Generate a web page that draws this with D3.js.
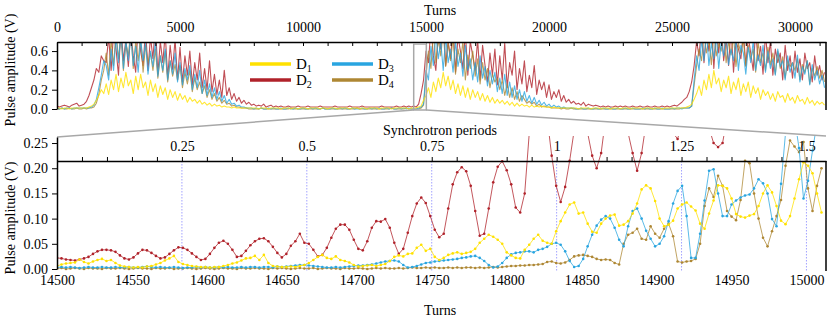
<!DOCTYPE html>
<html>
<head>
<meta charset="utf-8">
<script src="https://cdn.jsdelivr.net/npm/d3@7"></script>
<style>
  body { margin: 0; background: #fff; }
  svg { display: block; }
  svg text { font-family: 'Liberation Serif', 'Times New Roman', 'DejaVu Serif', serif; }
</style>
</head>
<body>
<svg id="chart" width="830" height="319"></svg>
<script>
// Overview: one value every 100 turns from turn 0, in units of 0.01 V
const overviewStep = 100;
const ovD1 = [
  1,1,0,1,1,0,1,1,1,1, 1,1,1,2,3,5,9,14,20,16, 26,15,30,20,36,18,32,22,38,24,
  30,16,34,20,36,22,28,14,30,18, 26,12,24,15,22,10,20,12,18,9, 16,10,14,7,12,8,10,6,9,5,
  7,4,6,3,5,3,4,2,3,2, 2,1,2,1,1,1,1,1,1,1, 1,1,0,1,1,1,0,1,1,1,
  1,0,1,1,1,0,1,1,0,1, 1,1,0,1,1,1,1,0,1,1, 0,1,1,1,0,1,1,1,1,0,
  1,1,1,0,1,1,0,1,1,1, 1,0,1,1,1,1,0,1,1,1, 1,1,1,0,1,1,1,2,3,9,
  14,22,12,28,18,32,22,38,24,34, 20,30,16,26,14,24,12,22,10,20, 12,18,9,16,8,14,7,12,6,10,
  6,9,5,8,4,7,3,6,3,5, 3,4,2,4,2,3,2,3,2,2, 2,1,2,1,1,1,1,1,1,1,
  1,1,0,1,1,1,1,0,1,1, 1,0,1,1,1,0,1,1,1,0, 1,1,1,0,1,1,1,1,0,1,
  1,1,0,1,1,1,0,1,1,1, 1,1,1,1,1,1,2,3,5,10, 16,24,14,30,20,36,22,40,26,32,
  18,30,22,34,16,28,20,32,14,26, 18,28,12,24,16,22,10,20,14,18, 10,16,8,18,12,14,7,16,9,12,
  6,14,8,10,5,12,6,9,4,8, 5,7,4
];
const ovD2 = [
  3,2,3,4,3,2,4,5,6,3, 4,5,8,14,22,30,42,38,55,50, 48,75,40,80,62,35,85,50,72,44,
  80,55,38,90,60,45,82,40,75,52, 88,36,70,48,78,32,66,41,72,30, 64,28,55,35,60,25,48,30,58,22,
  42,20,50,18,36,15,30,12,40,14, 22,10,16,8,12,6,9,5,7,4, 5,3,4,3,5,2,3,4,2,3,
  2,3,2,2,3,2,2,2,3,2, 2,2,3,2,2,2,2,3,2,2, 2,2,2,3,2,2,2,2,2,3,
  2,2,2,2,3,2,2,2,2,2, 2,2,3,2,2,2,2,2,3,2, 2,3,2,3,2,3,2,5,16,30,
  60,48,85,55,40,78,62,90,45,70, 52,88,38,75,60,42,80,35,70,55, 40,72,30,66,45,28,58,35,62,25,
  55,30,68,22,48,35,60,20,42,26, 50,18,35,22,45,15,30,20,28,12, 25,10,18,12,20,8,14,7,10,6,
  8,5,6,4,7,3,5,4,3,4, 3,2,3,2,3,2,2,3,2,3, 2,3,2,2,3,2,2,3,2,2,
  3,2,2,3,2,2,3,2,3,2, 3,4,3,5,7,10,12,18,28,45, 70,55,85,48,78,60,90,42,80,58,
  88,50,72,45,85,38,70,62,52,80, 45,75,58,40,82,50,65,36,78,48, 70,35,62,48,58,30,66,40,55,32,
  60,38,52,30,58,42,48,28,55,35, 45,30,38
];
const ovD3 = [
  1,0,1,0,1,1,0,1,1,1, 1,1,1,1,2,4,10,22,35,50, 45,30,62,40,75,48,80,42,70,50,
  78,45,65,38,72,50,68,36,60,44, 70,34,55,40,62,30,50,36,58,28, 48,25,42,30,45,20,36,22,40,16,
  30,14,26,12,22,10,18,8,14,6, 10,5,6,3,4,2,2,1,1,1, 0,1,0,1,0,0,1,0,1,0,
  0,1,0,0,1,0,0,1,0,0, 1,0,0,1,0,1,0,0,1,0, 0,0,1,0,0,1,0,1,0,0,
  1,0,0,0,1,0,0,1,0,1, 0,1,0,0,1,0,1,0,0,1, 0,1,0,1,0,0,0,1,2,5,
  40,30,65,45,78,52,70,40,75,48, 62,38,70,44,58,34,66,40,52,30, 48,28,55,32,44,24,40,26,38,18,
  32,16,36,14,28,12,24,10,20,8, 18,8,14,6,12,5,9,4,7,3, 5,2,4,2,3,1,2,1,1,1,
  1,0,0,1,0,0,1,0,0,1, 0,0,1,0,0,1,0,0,1,0, 0,1,0,0,1,0,0,0,1,0,
  1,0,0,1,0,0,1,0,0,0, 1,0,1,1,0,1,1,1,3,30, 55,40,72,50,80,45,68,52,76,42,
  70,55,78,46,62,50,72,40,66,58, 36,64,48,70,40,56,45,66,38,60, 42,52,35,62,44,50,30,55,38,48,
  32,56,28,44,36,50,25,46,30,40, 26,35,22
];
const ovD4 = [
  0,0,1,0,0,1,0,0,1,0, 0,1,0,1,1,2,6,15,30,40, 58,35,72,45,80,52,76,40,68,55,
  82,42,70,50,75,38,66,48,58,40, 62,32,55,38,60,28,50,34,46,30, 45,22,38,26,40,18,32,20,28,16,
  24,12,20,10,16,8,12,6,9,5, 6,3,4,2,2,1,1,1,0,0, 0,0,0,1,0,0,0,0,0,0,
  0,0,0,0,0,1,0,0,0,0, 0,0,0,0,0,0,0,0,1,0, 0,0,0,0,0,0,0,0,0,0,
  0,0,1,0,0,0,0,0,0,0, 0,0,0,0,0,0,1,0,0,0, 0,0,1,0,0,0,0,0,1,4,
  35,60,42,80,48,72,55,82,44,68, 50,74,36,62,48,70,30,56,42,60, 34,52,26,48,30,42,22,36,28,32,
  20,30,14,26,12,22,10,18,8,14, 10,6,8,5,7,3,5,2,3,2, 2,1,1,1,1,0,1,0,0,1,
  0,0,0,0,0,0,0,0,0,0, 0,0,0,0,0,0,0,0,0,0, 0,0,0,0,0,0,0,0,0,0,
  0,0,0,0,0,0,0,0,0,0, 0,0,0,0,1,1,1,1,3,25, 45,62,50,78,58,72,46,80,55,68,
  60,82,48,70,56,76,44,68,58,72, 44,66,52,62,38,70,48,58,40,64, 46,58,36,60,42,54,32,50,44,48,
  40,52,30,46,38,50,26,42,34,44, 32,40,28
];

// Zoom: one value every 3 turns from turn 14500, in V
const zoomStart = 14500;
const zoomStep = 3;
const zD1 = [
  0.006,0.009,0.011,0.012,0.013,0.019,0.014,0.011,0.015,0.018,
  0.020,0.016,0.018,0.012,0.007,0.005,0.004,0.003,0.004,0.003,
  0.005,0.006,0.009,0.012,0.017,0.021,0.026,0.014,0.010,0.008,
  0.006,0.005,0.004,0.004,0.003,0.004,0.004,0.006,0.008,0.011,
  0.013,0.017,0.021,0.022,0.026,0.018,0.028,0.012,0.006,0.005,
  0.004,0.004,0.005,0.004,0.006,0.008,0.012,0.018,0.024,0.028,
  0.022,0.020,0.025,0.018,0.016,0.013,0.008,0.005,0.006,0.007,
  0.008,0.006,0.008,0.010,0.016,0.024,0.027,0.025,0.030,0.031,
  0.042,0.048,0.036,0.040,0.024,0.018,0.022,0.028,0.031,0.033,
  0.030,0.032,0.034,0.040,0.052,0.060,0.068,0.064,0.058,0.050,
  0.033,0.027,0.022,0.021,0.038,0.048,0.060,0.068,0.056,0.052,
  0.050,0.075,0.095,0.112,0.128,0.132,0.110,0.112,0.090,0.074,
  0.072,0.090,0.100,0.106,0.108,0.086,0.088,0.095,0.110,0.130,
  0.158,0.166,0.160,0.135,0.100,0.085,0.088,0.096,0.120,0.128,
  0.132,0.124,0.116,0.090,0.080,0.110,0.136,0.166,0.165,0.160,
  0.140,0.109,0.104,0.102,0.106,0.109,0.125,0.150,0.166,0.152,
  0.125,0.096,0.089,0.105,0.140,0.178,0.212,0.205,0.190,0.150,
  0.112
];
const zD2 = [
  0.022,0.021,0.019,0.018,0.017,0.019,0.021,0.024,0.030,0.035,
  0.038,0.038,0.037,0.034,0.027,0.021,0.019,0.023,0.031,0.038,
  0.037,0.032,0.026,0.021,0.023,0.030,0.037,0.043,0.042,0.038,
  0.031,0.024,0.018,0.020,0.030,0.042,0.052,0.056,0.050,0.038,
  0.024,0.026,0.036,0.047,0.055,0.060,0.061,0.055,0.044,0.032,
  0.023,0.030,0.046,0.055,0.070,0.052,0.050,0.038,0.025,0.028,
  0.042,0.062,0.080,0.088,0.088,0.078,0.058,0.040,0.037,0.055,
  0.082,0.095,0.094,0.099,0.082,0.052,0.030,0.040,0.072,0.105,
  0.130,0.142,0.131,0.105,0.078,0.063,0.070,0.120,0.168,0.192,
  0.202,0.194,0.165,0.115,0.066,0.070,0.120,0.172,0.203,0.214,
  0.196,0.168,0.122,0.112,0.150,0.268,0.340,0.390,0.370,0.300,
  0.225,0.165,0.133,0.163,0.215,0.275,0.330,0.310,0.270,0.225,
  0.200,0.230,0.300,0.360,0.390,0.370,0.320,0.270,0.230,0.195,
  0.230,0.290,0.350,0.400,0.390,0.340,0.300,0.270,0.258,0.290,
  0.350,0.420,0.450,0.410,0.340,0.280,0.250,0.242,0.250,0.300,
  0.380,0.450,0.500,0.520,0.480,0.420,0.380,0.360,0.400,0.460,
  0.520,0.550,0.500,0.440,0.400,0.420,0.480,0.540,0.560,0.500,
  0.460
];
const zD3 = [
  0.003,0.004,0.003,0.004,0.003,0.002,0.003,0.004,0.003,0.003,
  0.004,0.003,0.003,0.004,0.003,0.003,0.004,0.003,0.003,0.004,
  0.005,0.004,0.003,0.004,0.003,0.003,0.004,0.003,0.002,0.003,
  0.003,0.004,0.003,0.004,0.003,0.003,0.004,0.003,0.004,0.003,
  0.003,0.004,0.003,0.004,0.004,0.003,0.004,0.004,0.003,0.005,
  0.004,0.005,0.006,0.007,0.008,0.008,0.007,0.006,0.005,0.004,
  0.003,0.003,0.004,0.003,0.004,0.005,0.006,0.007,0.007,0.008,
  0.009,0.011,0.013,0.015,0.016,0.017,0.015,0.008,0.003,0.004,
  0.006,0.009,0.012,0.013,0.015,0.016,0.017,0.018,0.019,0.020,
  0.022,0.023,0.025,0.026,0.022,0.016,0.008,0.003,0.005,0.012,
  0.022,0.029,0.032,0.033,0.035,0.035,0.033,0.038,0.040,0.044,
  0.050,0.052,0.048,0.035,0.016,0.004,0.006,0.020,0.045,0.068,
  0.086,0.098,0.105,0.100,0.082,0.058,0.045,0.085,0.115,0.120,
  0.100,0.076,0.060,0.045,0.050,0.065,0.095,0.130,0.155,0.165,
  0.105,0.022,0.022,0.070,0.136,0.195,0.198,0.150,0.105,0.105,
  0.128,0.136,0.142,0.146,0.148,0.160,0.178,0.170,0.150,0.099,
  0.085,0.169,0.270,0.310,0.300,0.240,0.140,0.175,0.235,0.290,
  0.300
];
const zD4 = [
  0.001,0.002,0.000,0.001,0.002,0.001,0.000,0.002,0.001,0.001,
  0.000,0.002,0.001,0.001,0.002,0.001,0.000,0.001,0.002,0.001,
  0.001,0.000,0.002,0.001,0.001,0.002,0.000,0.001,0.001,0.002,
  0.001,0.000,0.001,0.002,0.001,0.000,0.001,0.002,0.001,0.001,
  0.000,0.002,0.001,0.001,0.002,0.001,0.001,0.000,0.002,0.001,
  0.002,0.001,0.000,0.001,0.002,0.001,0.001,0.002,0.000,0.001,
  0.002,0.001,0.001,0.000,0.002,0.001,0.001,0.002,0.001,0.000,
  0.001,0.002,0.001,0.002,0.001,0.001,0.002,0.001,0.002,0.003,
  0.002,0.002,0.003,0.002,0.003,0.002,0.002,0.003,0.002,0.003,
  0.002,0.003,0.003,0.002,0.003,0.002,0.003,0.004,0.003,0.004,
  0.005,0.006,0.006,0.007,0.007,0.008,0.008,0.009,0.010,0.014,
  0.015,0.012,0.011,0.013,0.018,0.025,0.027,0.028,0.026,0.024,
  0.020,0.018,0.019,0.018,0.012,0.009,0.050,0.068,0.072,0.080,
  0.060,0.058,0.085,0.070,0.062,0.080,0.090,0.065,0.015,0.013,
  0.015,0.016,0.020,0.050,0.125,0.160,0.143,0.185,0.165,0.115,
  0.104,0.097,0.137,0.215,0.210,0.150,0.100,0.062,0.045,0.075,
  0.105,0.137,0.205,0.255,0.243,0.232,0.252,0.160,0.115,0.165,
  0.200
];

const seriesNames = ['D1', 'D2', 'D3', 'D4'];
const seriesColors = { D1: '#ffe100', D2: '#b0222a', D3: '#29a5e0', D4: '#ae8733' };
const drawOrder = ['D2', 'D4', 'D3', 'D1'];
const overview = { D1: ovD1, D2: ovD2, D3: ovD3, D4: ovD4 };
const zoomed = { D1: zD1, D2: zD2, D3: zD3, D4: zD4 };

const overviewTicks = d3.range(0, 31001, 1000);
const overviewYTicks = [0, 0.2, 0.4, 0.6];
const zoomTicks = [14500, 14550, 14600, 14650, 14700, 14750, 14800, 14850, 14900, 14950, 15000];
const zoomYTicks = [0, 0.05, 0.10, 0.15, 0.20, 0.25];
const syncTicks = d3.range(0, 31).map(i => i * 0.05);
const syncLabels = [0.25, 0.5, 0.75, 1, 1.25, 1.5];
const turnsPerSync = 333.3;
const zoomEnd = 15013;

const serif = "'Liberation Serif', 'Times New Roman', 'DejaVu Serif', serif";
const svg = d3.select('#chart').attr('font-family', serif);
const left = 57, right = 826;

// Scales
const xTop = d3.scaleLinear().domain([0, 31260]).range([left, right]);
const yTop = d3.scaleLinear().domain([0, 0.694]).range([109, 42]);
const xBot = d3.scaleLinear().domain([zoomStart, zoomEnd]).range([left, right]);
const yBot = d3.scaleLinear().domain([0, 0.262]).range([269, 137]);
const xSync = d3.scaleLinear().domain([0, (zoomEnd - zoomStart) / turnsPerSync]).range([left, right]);

const defs = svg.append('defs');
defs.append('clipPath').attr('id', 'clipTop').append('rect')
  .attr('x', left).attr('y', 42).attr('width', right - left).attr('height', 70);
defs.append('clipPath').attr('id', 'clipBot').append('rect')
  .attr('x', left).attr('y', 136).attr('width', right - left).attr('height', 138);

function styleAxis(g) {
  g.attr('font-family', serif).attr('font-size', 14);
  g.selectAll('.domain').attr('stroke', '#000').attr('stroke-width', 1.5);
  g.selectAll('.tick line').attr('stroke', '#000').attr('stroke-width', 1);
  g.selectAll('.tick text').attr('fill', '#000');
}

// ---- Top overview panel ----
const topLine = d3.line()
  .x((d, i) => xTop(i * overviewStep))
  .y(d => yTop(d / 100));

const topG = svg.append('g').attr('clip-path', 'url(#clipTop)');
drawOrder.forEach(name => {
  topG.append('path')
    .attr('d', topLine(overview[name]))
    .attr('fill', 'none')
    .attr('stroke', seriesColors[name])
    .attr('stroke-width', 1.1)
    .attr('stroke-opacity', 0.8)
    .attr('stroke-linejoin', 'round');
});

svg.append('g').attr('transform', 'translate(0,42)')
  .call(d3.axisTop(xTop).tickValues(overviewTicks)
    .tickFormat(d => d % 5000 === 0 ? d : '')
    .tickSize(-4).tickSizeOuter(0).tickPadding(10))
  .call(styleAxis);

svg.append('g').attr('transform', `translate(${left},0)`)
  .call(d3.axisLeft(yTop).tickValues(overviewYTicks).tickFormat(d3.format('.1f'))
    .tickSize(5).tickSizeOuter(0).tickPadding(4))
  .call(styleAxis);

svg.append('line').attr('x1', right).attr('x2', right).attr('y1', 42).attr('y2', 110)
  .attr('stroke', '#000').attr('stroke-width', 1.5);

// zoom marker and connectors
const zx0 = xTop(zoomStart), zx1 = xTop(zoomEnd);
svg.append('rect').attr('x', zx0).attr('y', 44).attr('width', zx1 - zx0).attr('height', 66)
  .attr('fill', 'none').attr('stroke', '#a8a8a8').attr('stroke-width', 1.5);
svg.append('line').attr('x1', zx0).attr('y1', 110).attr('x2', left).attr('y2', 137)
  .attr('stroke', '#a8a8a8').attr('stroke-width', 1.5);
svg.append('line').attr('x1', zx1).attr('y1', 110).attr('x2', right).attr('y2', 136)
  .attr('stroke', '#a8a8a8').attr('stroke-width', 1.5);

// Legend
const legendPos = { D1: [250, 64], D2: [250, 80], D3: [332, 64], D4: [332, 80] };
seriesNames.forEach(name => {
  const [lx, ly] = legendPos[name];
  svg.append('line').attr('x1', lx).attr('x2', lx + 41).attr('y1', ly).attr('y2', ly)
    .attr('stroke', seriesColors[name]).attr('stroke-width', 3.5);
  const t = svg.append('text').attr('x', lx + 46).attr('y', ly + 5).attr('font-size', 15);
  t.append('tspan').text('D');
  t.append('tspan').attr('font-size', 10).attr('dy', 3).text(name.slice(1));
});

// ---- Bottom zoom panel ----
const botLine = d3.line()
  .x((d, i) => xBot(zoomStart + i * zoomStep))
  .y(d => yBot(d));

// synchrotron period guides
svg.append('g').selectAll('line').data(syncLabels).join('line')
  .attr('x1', d => xSync(d)).attr('x2', d => xSync(d))
  .attr('y1', 161).attr('y2', 271)
  .attr('stroke', '#8c8cff').attr('stroke-width', 0.8).attr('stroke-dasharray', '1.5,1.5');

const botG = svg.append('g').attr('clip-path', 'url(#clipBot)');
drawOrder.forEach(name => {
  const vals = zoomed[name];
  botG.append('path')
    .attr('d', botLine(vals))
    .attr('fill', 'none')
    .attr('stroke', seriesColors[name])
    .attr('stroke-width', 0.9)
    .attr('stroke-opacity', 0.85);
  botG.append('g').selectAll('circle').data(vals).join('circle')
    .attr('cx', (d, i) => xBot(zoomStart + i * zoomStep))
    .attr('cy', d => yBot(d))
    .attr('r', 1.3)
    .attr('fill', seriesColors[name]);
});

svg.append('g').attr('transform', 'translate(0,161)')
  .call(d3.axisTop(xSync).tickValues(syncTicks)
    .tickFormat(d => syncLabels.some(s => Math.abs(s - d) < 1e-6) ? d3.format('~g')(+d.toFixed(2)) : '')
    .tickSize(4).tickSizeOuter(0).tickPadding(6))
  .call(styleAxis);

svg.append('g').attr('transform', `translate(${left},0)`)
  .call(d3.axisLeft(yBot).tickValues(zoomYTicks).tickFormat(d3.format('.2f'))
    .tickSize(5).tickSizeOuter(0).tickPadding(4))
  .call(styleAxis);

const gxBot = svg.append('g').attr('transform', 'translate(0,269)')
  .call(d3.axisBottom(xBot).tickValues(zoomTicks).tickFormat(d3.format('d'))
    .tickSize(0).tickPadding(6))
  .call(styleAxis);
gxBot.select('.domain').remove();

svg.append('line').attr('x1', right).attr('x2', right).attr('y1', 161).attr('y2', 271)
  .attr('stroke', '#000').attr('stroke-width', 1.5);

// Titles
svg.append('text').attr('x', 440).attr('y', 15).attr('text-anchor', 'middle').attr('font-size', 14).text('Turns');
svg.append('text').attr('x', 440).attr('y', 135).attr('text-anchor', 'middle').attr('font-size', 14).text('Synchrotron periods');
svg.append('text').attr('x', 440).attr('y', 315).attr('text-anchor', 'middle').attr('font-size', 14).text('Turns');
svg.append('text').attr('transform', 'translate(15,70) rotate(-90)').attr('text-anchor', 'middle')
  .attr('font-size', 14).text('Pulse amplitude (V)');
svg.append('text').attr('transform', 'translate(15,218) rotate(-90)').attr('text-anchor', 'middle')
  .attr('font-size', 14).text('Pulse amplitude (V)');
</script>
</body>
</html>
